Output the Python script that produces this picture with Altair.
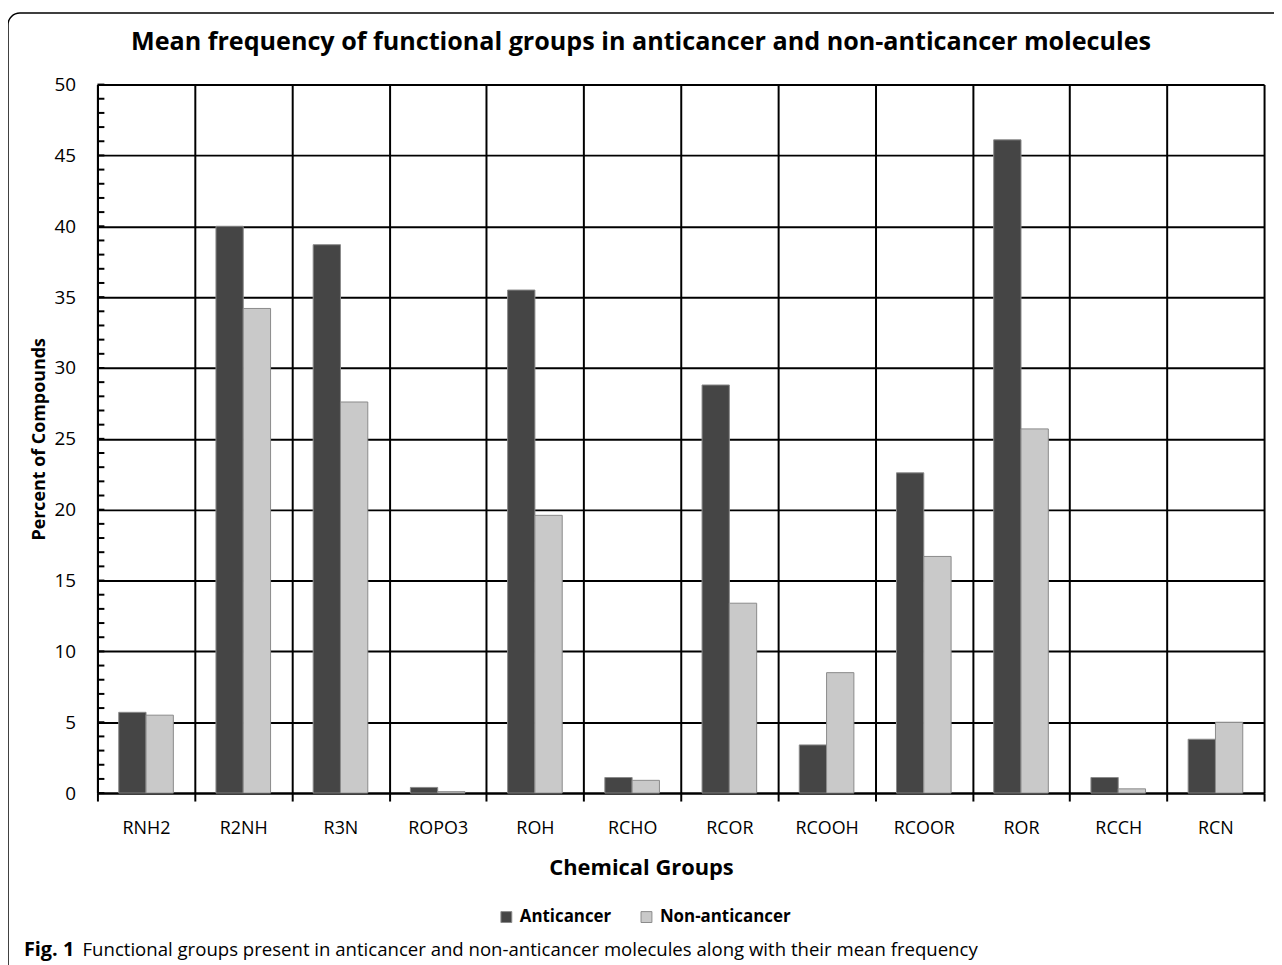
import altair as alt
import pandas as pd

groups = ["RNH2", "R2NH", "R3N", "ROPO3", "ROH", "RCHO", "RCOR", "RCOOH", "RCOOR", "ROR", "RCCH", "RCN"]
anticancer = [5.7, 40.0, 38.7, 0.4, 35.5, 1.1, 28.8, 3.4, 22.6, 46.1, 1.1, 3.8]
non_anticancer = [5.5, 34.2, 27.6, 0.1, 19.6, 0.9, 13.4, 8.5, 16.7, 25.7, 0.3, 5.0]
series = ["Anticancer", "Non-anticancer"]
y_major = [0, 5, 10, 15, 20, 25, 30, 35, 40, 45, 50]
y_minor = list(range(0, 51))

title_text = "Mean frequency of functional groups in anticancer and non-anticancer molecules"
caption_bold = "Fig. 1"
caption_rest = "Functional groups present in anticancer and non-anticancer molecules along with their mean frequency"

FONT = "Open Sans"
W, H = 1174, 713

rows = []
for g, a, n in zip(groups, anticancer, non_anticancer):
    rows.append({"group": g, "series": series[0], "value": a})
    rows.append({"group": g, "series": series[1], "value": n})
df = pd.DataFrame(rows)

xscale = alt.Scale(domain=groups, paddingInner=0, paddingOuter=0)
yscale = alt.Scale(domain=[0, 50], nice=False)

bars = alt.Chart(df).mark_bar(stroke="#8a8a8a", strokeWidth=1).encode(
    x=alt.X("group:N", scale=xscale, sort=groups,
            axis=alt.Axis(title="Chemical Groups", tickBand="extent", labelAngle=0,
                          labelFont=FONT, labelFontSize=18, labelColor="black",
                          labelPadding=19, tickSize=8, tickColor="black", tickWidth=2,
                          domainColor="black", domainWidth=2,
                          grid=True, gridColor="black", gridWidth=2, gridOpacity=1,
                          titleFont=FONT, titleFontSize=22, titleFontWeight="bold",
                          titleColor="black", titlePadding=20, titleX=547)),
    xOffset=alt.XOffset("series:N", scale=alt.Scale(domain=series, paddingInner=0, paddingOuter=0.78)),
    y=alt.Y("value:Q", scale=yscale,
            axis=alt.Axis(title="Percent of Compounds", values=y_major,
                          labelFont=FONT, labelFontSize=19, labelColor="black",
                          labelPadding=22, ticks=False,
                          domainColor="black", domainWidth=2,
                          grid=True, gridColor="black", gridWidth=2, gridOpacity=1,
                          titleFont=FONT, titleFontSize=18, titleFontWeight="bold",
                          titleColor="black", titlePadding=6)),
    color=alt.Color("series:N", scale=alt.Scale(domain=series, range=["#454545", "#c9c9c9"]),
                    legend=alt.Legend(title=None, orient="none", legendX=403, legendY=829,
                                      direction="horizontal", symbolType="square",
                                      symbolSize=120, symbolStrokeWidth=1, symbolStrokeColor="#8a8a8a",
                                      labelFont=FONT, labelFontSize=17, labelFontWeight="bold",
                                      labelColor="black", columnPadding=26, labelOffset=5)),
)

minor = alt.Chart(pd.DataFrame({"v": y_minor})).mark_rule(color="black", strokeWidth=2).encode(
    y=alt.Y("v:Q", scale=yscale),
    x=alt.value(0), x2=alt.value(7),
)

title_layer = alt.Chart(pd.DataFrame({"t": [title_text]})).mark_text(
    font=FONT, fontSize=25.3, fontWeight="bold", color="black", align="center", baseline="middle"
).encode(text="t:N", x=alt.value(547), y=alt.value(-43))

cap1 = alt.Chart(pd.DataFrame({"t": [caption_bold]})).mark_text(
    font=FONT, fontSize=20, fontWeight="bold", color="black", align="left", baseline="middle"
).encode(text="t:N", x=alt.value(-74), y=alt.value(871))

cap2 = alt.Chart(pd.DataFrame({"t": [caption_rest]})).mark_text(
    font=FONT, fontSize=18.7, color="black", align="left", baseline="middle"
).encode(text="t:N", x=alt.value(-15), y=alt.value(871))

border = alt.Chart(pd.DataFrame({"b": [0]})).mark_rect(
    fill=None, stroke="black", strokeWidth=1.5, cornerRadius=12, clip=False
).encode(x=alt.value(-90), x2=alt.value(1230), y=alt.value(-72), y2=alt.value(960))

chart = alt.layer(border, bars, minor, title_layer, cap1, cap2).properties(
    width=W, height=H,
    autosize=alt.AutoSizeParams(type="none"),
    padding={"left": 90, "top": 74, "right": 10, "bottom": 180},
).configure_view(stroke="black", strokeWidth=2).configure(background="white")

chart.save("out.html", embed_options={"renderer": "svg", "actions": False})
